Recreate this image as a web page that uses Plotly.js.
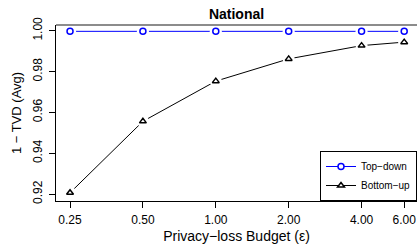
<!DOCTYPE html>
<html><head><meta charset="utf-8">
<script src="https://cdn.plot.ly/plotly-3.0.1.min.js"></script>
<style>html,body{margin:0;padding:0;overflow:hidden;background:#fff}</style>
</head><body><div id="chart" style="width:417px;height:246px"></div>
<script>
const budgets = [0.25, 0.5, 1, 2, 4, 6];
const budgetLabels = ['0.25', '0.50', '1.00', '2.00', '4.00', '6.00'];
const topDown = [0.9997, 0.9997, 0.9997, 0.9997, 0.9997, 0.9997];
const bottomUp = [0.9206, 0.9556, 0.9753, 0.9862, 0.9927, 0.9944];
const yTicks = [0.92, 0.94, 0.96, 0.98, 1.00];

const font = 'Liberation Sans, Arial, sans-serif';
function series(name, y, color, symbol) {
  return [
    {x: budgets, y: y, name: name, mode: 'lines+markers', type: 'scatter',
     line: {color: color, width: 1},
     marker: {symbol: symbol, size: 6, color: '#fff', line: {color: color, width: 1.5}}},
    {x: budgets, y: y, mode: 'markers', type: 'scatter', showlegend: false, hoverinfo: 'skip',
     marker: {symbol: 'circle', size: 12, color: '#fff', line: {width: 0}}},
    {x: budgets, y: y, mode: 'markers', type: 'scatter', showlegend: false, hoverinfo: 'skip',
     marker: {symbol: symbol, size: 6, color: '#fff', line: {color: color, width: 1.5}}}
  ];
}
const data = [].concat(series('Top−down', topDown, '#0000ff', 'circle'),
                       series('Bottom−up', bottomUp, '#000000', 'triangle-up'));
const layout = {
  width: 417, height: 246,
  margin: {l: 56, r: 0, t: 25, b: 45},
  paper_bgcolor: '#fff', plot_bgcolor: '#fff',
  font: {family: font, color: '#000', size: 12},
  title: {text: '<b>National</b>', font: {size: 14, family: font}, x: 0.5, xref: 'paper',
    y: 1, yref: 'paper', yanchor: 'bottom', pad: {b: 6}},
  xaxis: {type: 'log', range: [-0.660, 0.831], tickvals: budgets, ticktext: budgetLabels,
    showgrid: false, zeroline: false, showline: true, linecolor: '#000', linewidth: 1,
    ticks: 'outside', ticklen: 6, tickcolor: '#000', tickwidth: 1, tickfont: {size: 12},
    ticklabelstandoff: 2,
    title: {text: 'Privacy−loss Budget (ε)', font: {size: 14}, standoff: 4}},
  yaxis: {range: [0.91657, 1.0028], tickvals: yTicks, tickformat: '.2f', tickangle: -90,
    showgrid: false, zeroline: false, showline: true, linecolor: '#000', linewidth: 1,
    ticks: 'outside', ticklen: 6, tickcolor: '#000', tickwidth: 1, tickfont: {size: 12},
    ticklabelstandoff: 2,
    title: {text: '1 − TVD (Avg)', font: {size: 13}, standoff: 6}},
  shapes: [{type: 'line', xref: 'paper', yref: 'paper', x0: 0, x1: 1, y0: 1, y1: 1,
    line: {color: '#8c8c8c', width: 2}}],
  legend: {x: 1, xanchor: 'right', y: 0, yanchor: 'bottom', bordercolor: '#000', borderwidth: 1,
    bgcolor: '#fff', font: {size: 10}, itemwidth: 30, tracegroupgap: 0}
};
Plotly.newPlot('chart', data, layout, {displayModeBar: false, staticPlot: true});
</script></body></html>
